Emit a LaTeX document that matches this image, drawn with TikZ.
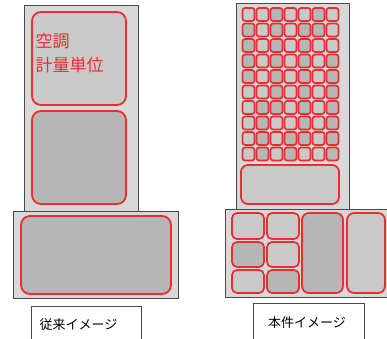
\documentclass[tikz,border=0pt]{standalone}
\usepackage{fontspec}
\newfontfamily\jp{Noto Sans CJK JP}
\definecolor{towerfill}{HTML}{D8D8D8}
\definecolor{celllight}{HTML}{C9C9C9}
\definecolor{celldark}{HTML}{B6B6B6}
\definecolor{redline}{HTML}{EC2D2F}
\definecolor{frame}{HTML}{4A4A4A}
\tikzset{
  tower/.style={draw=frame, line width=0.9pt, fill=towerfill},
  bigcell/.style={draw=redline, line width=1.8pt, rounded corners=9pt},
  midcell/.style={draw=redline, line width=1.7pt, rounded corners=5pt},
  gridcell/.style={draw=redline, line width=1.7pt, rounded corners=2.5pt},
  labelbox/.style={draw=frame, line width=0.8pt, fill=white}
}
\begin{document}
\begin{tikzpicture}[x=1pt,y=-1pt]
\useasboundingbox (0,0) rectangle (387,338);
\clip (0,0) rectangle (387,338);
% ---------- left (conventional) ----------
\node[tower, inner sep=0pt, minimum width=114pt, minimum height=206pt, anchor=north west] (ltower) at (24,5) {};
\draw[bigcell, fill=celllight] (32,12) rectangle (126,105);
\node[anchor=north west, inner sep=0pt, text=redline, align=left, font=\jp\fontsize{17}{24}\selectfont] (ltext) at (35.5,33) {空調\\計量単位};
\draw[bigcell, fill=celldark] (32,111) rectangle (126,204);
\node[tower, inner sep=0pt, minimum width=165pt, minimum height=87pt, anchor=north west] (lbase) at (13,211) {};
\draw[bigcell, fill=celldark] (21,216) rectangle (171,294);
\node[labelbox, anchor=north west, minimum width=110pt, minimum height=40pt, inner sep=0pt] (llabel) at (31,306) {};
\node[font=\jp\fontsize{13}{13}\selectfont, anchor=center] (ltxt) at (78.5,324.5) {従来イメージ};
% ---------- right (this project) ----------
\node[tower, inner sep=0pt, minimum width=113pt, minimum height=207pt, anchor=north west] (rtower) at (236,3) {};
\foreach \row/\pat in {0/{0,0,1,0,0,1,0},1/{1,0,1,0,1,1,0},2/{1,0,1,0,1,0,0},3/{1,0,1,0,1,0,1},4/{1,0,1,0,1,0,1},5/{0,0,1,0,1,0,1},6/{0,1,1,0,1,0,1},7/{0,1,0,0,1,0,1},8/{0,1,0,1,1,0,1},9/{0,1,0,1,0,0,1}}{
  \foreach \d [count=\col from 0] in \pat {
    \pgfmathsetmacro{\xa}{242.5+14*\col}
    \pgfmathsetmacro{\ya}{8+15.5*\row}
    \ifnum\d=1
      \draw[gridcell, fill=celldark] (\xa,\ya) rectangle ++(12,13);
    \else
      \draw[gridcell, fill=celllight] (\xa,\ya) rectangle ++(12,13);
    \fi
  }
}
\draw[bigcell, rounded corners=7pt, fill=celllight] (241,165) rectangle (339,204);
\node[tower, inner sep=0pt, minimum width=170pt, minimum height=88pt, anchor=north west] (rbase) at (225,209) {};
\draw[midcell, fill=celllight] (232,213) rectangle (264,239);
\draw[midcell, fill=celllight] (267,213) rectangle (299,239);
\draw[midcell, fill=celldark] (232,242) rectangle (264,267);
\draw[midcell, fill=celllight] (267,242) rectangle (299,267);
\draw[midcell, fill=celllight] (232,270) rectangle (264,293);
\draw[midcell, fill=celldark] (267,270) rectangle (299,293);
\draw[bigcell, rounded corners=7pt, fill=celldark] (302,213) rectangle (343,293);
\draw[bigcell, rounded corners=7pt, fill=celllight] (347,213) rectangle (385,293);
\node[labelbox, anchor=north west, minimum width=111pt, minimum height=40pt, inner sep=0pt] (rlabel) at (253,303) {};
\node[font=\jp\fontsize{13}{13}\selectfont, anchor=center] (rtxt) at (307,323) {本件イメージ};
\end{tikzpicture}
\end{document}
